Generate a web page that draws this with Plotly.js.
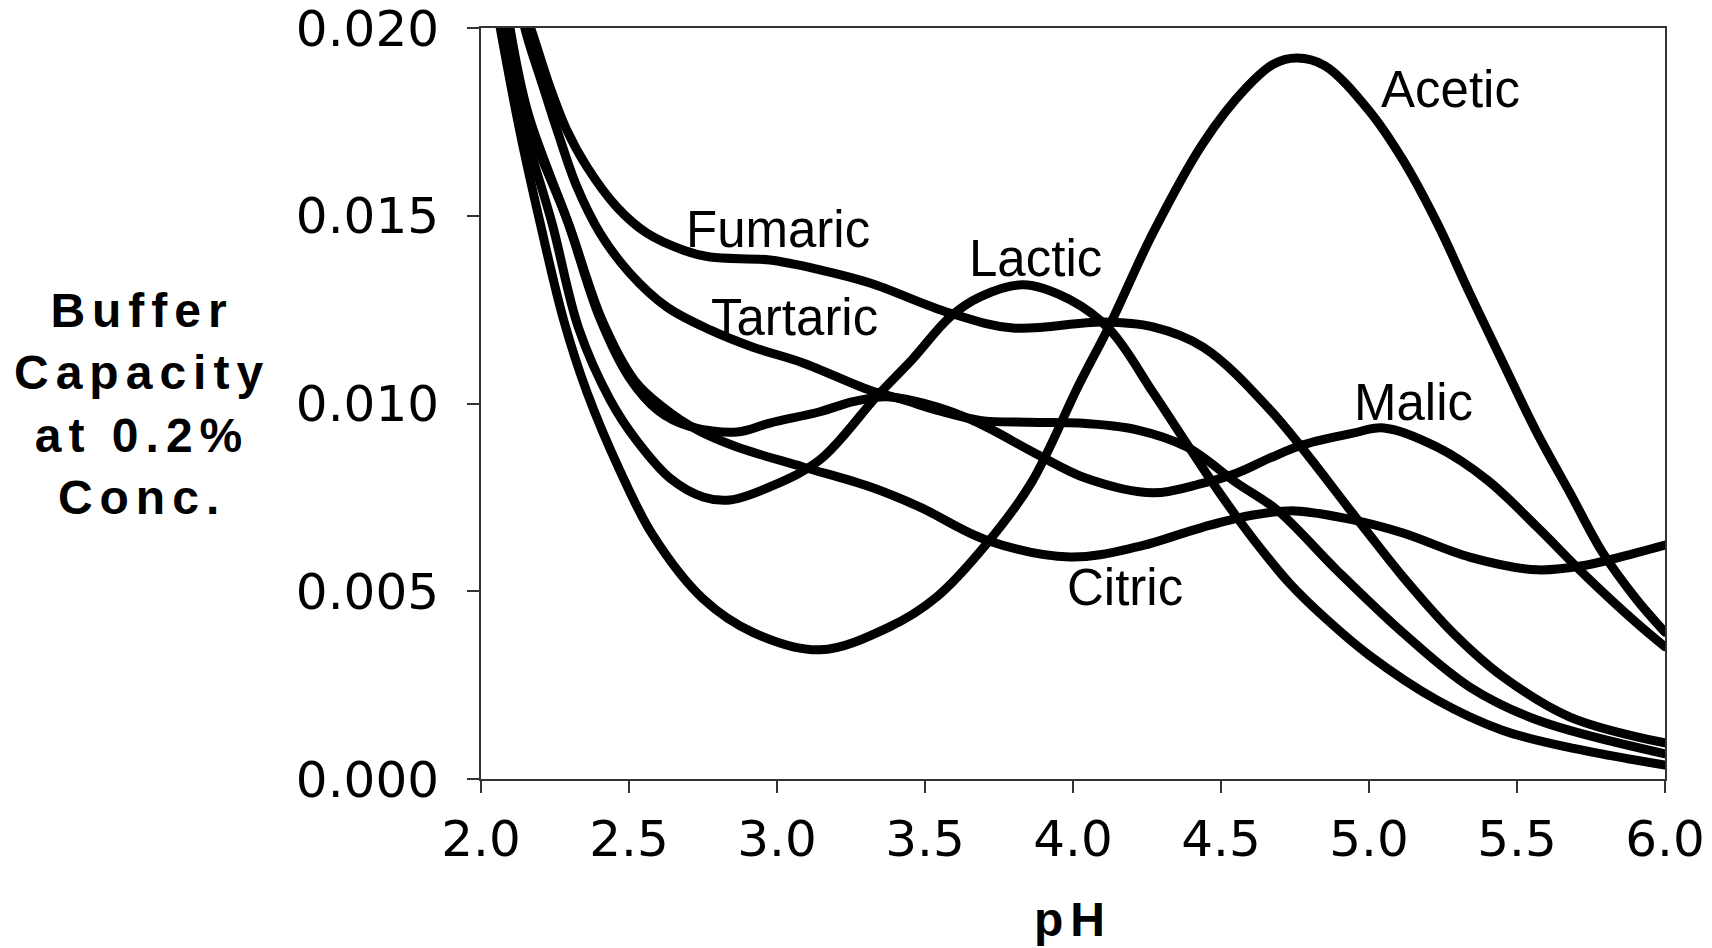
<!DOCTYPE html>
<html>
<head>
<meta charset="utf-8">
<script src="https://cdn.plot.ly/plotly-3.0.1.min.js"></script>
<style>
  html, body { margin: 0; padding: 0; background: #fff; }
  #chart { width: 1712px; height: 948px; }
  .scatterlayer .js-line { stroke-linecap: round; stroke-linejoin: round; }
  .annotation[data-index="6"] text, .annotation[data-index="7"] text { letter-spacing: 7px; }
</style>
</head>
<body>
<div id="chart"></div>
<script>
// ---- data (pH vs buffer capacity) ----
const acidNames = ["Acetic", "Lactic", "Malic", "Citric", "Fumaric", "Tartaric"];

const acetic_pH = [2.065, 2.13, 2.2, 2.28, 2.358, 2.47, 2.58, 2.75, 2.92, 3.145, 3.38, 3.54, 3.71, 3.86, 4.02, 4.125, 4.27, 4.44, 4.588, 4.68, 4.757, 4.85, 5.0, 5.115, 5.23, 5.34, 5.453, 5.568, 5.679, 5.79, 5.905, 6.0];
const acetic_bc = [0.0200, 0.0173, 0.0148, 0.0122, 0.0103, 0.0082, 0.0065, 0.0048, 0.0039, 0.00344, 0.00405, 0.00485, 0.00628, 0.0079, 0.0105, 0.0121, 0.01454, 0.01694, 0.01843, 0.01905, 0.0192, 0.0190, 0.0178, 0.01648, 0.01481, 0.01294, 0.01108, 0.00921, 0.00762, 0.00602, 0.00477, 0.00391];

const lactic_pH = [2.075, 2.14, 2.24, 2.33, 2.436, 2.527, 2.64, 2.75, 2.841, 2.976, 3.145, 3.338, 3.46, 3.584, 3.686, 3.831, 3.99, 4.125, 4.27, 4.395, 4.497, 4.608, 4.733, 4.85, 5.0, 5.23, 5.45, 5.7, 6.0];
const lactic_bc = [0.0200, 0.0175, 0.0148, 0.0120, 0.0101, 0.0090, 0.0080, 0.00751, 0.00743, 0.00778, 0.0085, 0.0102, 0.0112, 0.0123, 0.01284, 0.01316, 0.01276, 0.01196, 0.0103, 0.0088, 0.0076, 0.0064, 0.0052, 0.0043, 0.0033, 0.0021, 0.0013, 0.0008, 0.00037];

const malic_pH = [2.088, 2.15, 2.29, 2.4, 2.5, 2.6, 2.7, 2.865, 2.976, 3.145, 3.257, 3.37, 3.5, 3.6, 3.709, 3.878, 4.047, 4.27, 4.44, 4.554, 4.666, 4.777, 4.946, 5.05, 5.23, 5.4, 5.568, 5.736, 5.905, 6.0];
const malic_bc = [0.0200, 0.0177, 0.0149, 0.0123, 0.0107, 0.0098, 0.0094, 0.00924, 0.00948, 0.00978, 0.01005, 0.01018, 0.0100, 0.00975, 0.00937, 0.00865, 0.00800, 0.00762, 0.00788, 0.00815, 0.00855, 0.0089, 0.00921, 0.00935, 0.00884, 0.00796, 0.00671, 0.00538, 0.00415, 0.00352];

const citric_pH = [2.098, 2.16, 2.3, 2.41, 2.52, 2.615, 2.73, 2.865, 3.088, 3.314, 3.483, 3.709, 3.99, 4.216, 4.44, 4.608, 4.75, 4.946, 5.115, 5.34, 5.568, 5.736, 5.848, 6.0];
const citric_bc = [0.0200, 0.0177, 0.0147, 0.0122, 0.0106, 0.0099, 0.0093, 0.00884, 0.00831, 0.00778, 0.00724, 0.00636, 0.00591, 0.00618, 0.00671, 0.00703, 0.00714, 0.0069, 0.00655, 0.00591, 0.00557, 0.0057, 0.00591, 0.00623];

const fumaric_pH = [2.168, 2.189, 2.233, 2.29, 2.358, 2.459, 2.56, 2.682, 2.774, 2.976, 3.145, 3.314, 3.584, 3.797, 4.101, 4.27, 4.44, 4.666, 4.97, 5.115, 5.284, 5.453, 5.679, 6.0];
const fumaric_bc = [0.0200, 0.01949, 0.01843, 0.01728, 0.0163, 0.01523, 0.01454, 0.01409, 0.0139, 0.01382, 0.01356, 0.01321, 0.01241, 0.01201, 0.01217, 0.01204, 0.0115, 0.00983, 0.00682, 0.00538, 0.00389, 0.00272, 0.00165, 0.00096];

const tartaric_pH = [2.148, 2.166, 2.21, 2.257, 2.324, 2.402, 2.503, 2.628, 2.774, 2.919, 3.088, 3.314, 3.426, 3.55, 3.686, 3.85, 4.02, 4.216, 4.385, 4.554, 4.69, 4.89, 5.115, 5.34, 5.568, 6.0];
const tartaric_bc = [0.0200, 0.0195, 0.01843, 0.01728, 0.01577, 0.01454, 0.01347, 0.01257, 0.01196, 0.0115, 0.01108, 0.01035, 0.0101, 0.0098, 0.00955, 0.0095, 0.00948, 0.0093, 0.00884, 0.00788, 0.00716, 0.00557, 0.00389, 0.00245, 0.00157, 0.00067];

const xTickVals = [2.0, 2.5, 3.0, 3.5, 4.0, 4.5, 5.0, 5.5, 6.0];
const xTickText = ["2.0", "2.5", "3.0", "3.5", "4.0", "4.5", "5.0", "5.5", "6.0"];
const yTickVals = [0.000, 0.005, 0.010, 0.015, 0.020];
const yTickText = ["0.000", "0.005", "0.010", "0.015", "0.020"];

const xTitle = "pH";
const yTitle = "Buffer<br>Capacity<br>at 0.2%<br>Conc.";

// label anchor points (pH, buffer capacity) for the curve names
const labelPH = [5.274, 3.872, 5.152, 4.176, 3.005, 3.059];
const labelBC = [0.01835, 0.01386, 0.01003, 0.0051, 0.014634, 0.01229];

// ---- build chart ----
const series = [
  [acetic_pH, acetic_bc],
  [lactic_pH, lactic_bc],
  [malic_pH, malic_bc],
  [citric_pH, citric_bc],
  [fumaric_pH, fumaric_bc],
  [tartaric_pH, tartaric_bc]
];

const traces = series.map((s, i) => ({
  type: "scatter",
  mode: "lines",
  name: acidNames[i],
  x: s[0],
  y: s[1],
  line: { color: "#000000", width: 9, shape: "spline", smoothing: 1 },
  cliponaxis: false,
  hoverinfo: "skip"
}));

const labelFont = { family: "Liberation Sans, Arial, sans-serif", size: 51, color: "#000" };
const annotations = acidNames.map((n, i) => ({
  text: n, x: labelPH[i], y: labelBC[i], xref: "x", yref: "y",
  xanchor: "center", yanchor: "middle", showarrow: false, font: labelFont
}));

const titleFont = { family: "Liberation Sans, Arial, sans-serif", size: 48, color: "#000", weight: "bold" };
annotations.push({
  text: "<b>" + yTitle + "</b>", xref: "paper", yref: "paper",
  x: -0.2863, y: 0.4993, xanchor: "center", yanchor: "middle",
  showarrow: false, align: "center", font: titleFont
});
annotations.push({
  text: "<b>" + xTitle + "</b>", xref: "paper", yref: "paper",
  x: 0.5, y: -0.1875, xanchor: "center", yanchor: "middle",
  showarrow: false, font: titleFont
});

const tickFont = { family: "DejaVu Sans, sans-serif", size: 50, color: "#000" };
const axisCommon = {
  showgrid: false, zeroline: false, showline: true, mirror: true,
  linecolor: "#333", linewidth: 2, ticks: "outside", ticklen: 12,
  tickwidth: 2, tickcolor: "#333", tickfont: tickFont, fixedrange: true,
  ticklabeloverflow: "allow"
};

const layout = {
  width: 1712, height: 948,
  margin: { l: 481, r: 47, t: 28, b: 169, pad: 0 },
  paper_bgcolor: "#fff", plot_bgcolor: "#fff",
  showlegend: false,
  xaxis: Object.assign({}, axisCommon, {
    range: [2, 6], tickmode: "array", tickvals: xTickVals, ticktext: xTickText,
    ticklabelstandoff: 3
  }),
  yaxis: Object.assign({}, axisCommon, {
    range: [0, 0.02], tickmode: "array", tickvals: yTickVals, ticktext: yTickText,
    ticklabelstandoff: 18
  }),
  annotations: annotations
};

Plotly.newPlot("chart", traces, layout, { displayModeBar: false, staticPlot: true }).then(() => {
  document.querySelectorAll(".cartesianlayer .plot, .cartesianlayer .plot [clip-path]").forEach(e => e.removeAttribute("clip-path"));
});
</script>
</body>
</html>
